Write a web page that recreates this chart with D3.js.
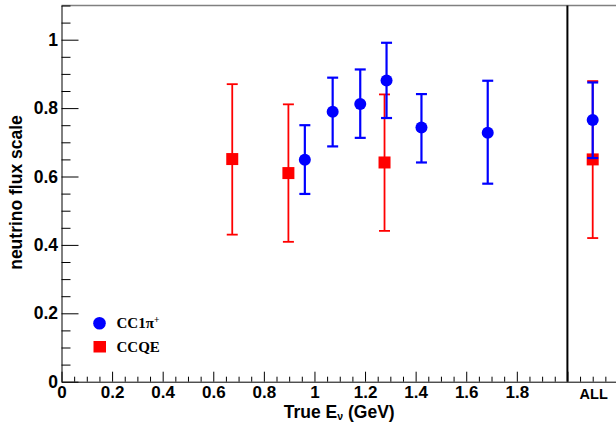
<!DOCTYPE html>
<html><head><meta charset="utf-8">
<script src="https://cdn.jsdelivr.net/npm/d3@7"></script>
<style>body{margin:0;background:#fff}svg{display:block}</style>
</head><body>
<svg id="c" width="616" height="423"></svg>
<script>
// ---- data ----
const ccqeX   = [0.675, 0.897, 1.277, 2.1];
const ccqeY   = [0.651, 0.610, 0.641, 0.650];
const ccqeHi  = [0.870, 0.811, 0.840, 0.879];
const ccqeLo  = [0.430, 0.409, 0.441, 0.420];

const pionX   = [0.962, 1.072, 1.181, 1.285, 1.423, 1.685, 2.1];
const pionY   = [0.649, 0.789, 0.812, 0.881, 0.743, 0.728, 0.765];
const pionHi  = [0.750, 0.889, 0.913, 0.991, 0.841, 0.880, 0.875];
const pionLo  = [0.549, 0.688, 0.713, 0.771, 0.641, 0.579, 0.654];

const xMajor  = [0, 0.2, 0.4, 0.6, 0.8, 1.0, 1.2, 1.4, 1.6, 1.8, 2.0];
const xLabels = ["0","0.2","0.4","0.6","0.8","1","1.2","1.4","1.6","1.8",""];
const yMajor  = [0, 0.2, 0.4, 0.6, 0.8, 1.0];
const yLabels = ["0","0.2","0.4","0.6","0.8","1"];
const allLabel = "ALL";

const svg = d3.select("#c");
const L = 61.5, R = 618, T = 5.5, B = 381.7;
const x = d3.scaleLinear().domain([0, 2.2]).range([L, R]);
const y = d3.scaleLinear().domain([0, 1.1]).range([B, T]);

const xMinor = d3.range(0, 2.2001, 0.05).filter(v => Math.abs(v/0.2 - Math.round(v/0.2)) > 1e-6);
const yMinor = d3.range(0, 1.1001, 0.05).filter(v => Math.abs(v/0.2 - Math.round(v/0.2)) > 1e-6);

const font = "'Liberation Sans', Arial, Helvetica, sans-serif";

// top frame line
svg.append("line").attr("x1", L).attr("x2", 616).attr("y1", T).attr("y2", T)
  .attr("stroke", "#808080").attr("stroke-width", 1.5);

// x axis
const gx = svg.append("g").attr("transform", `translate(0,${B})`);
gx.call(d3.axisBottom(x).tickValues(xMinor).tickSizeInner(-5).tickSizeOuter(0).tickFormat(""));
gx.call(g => g.selectAll(".domain").remove());
const gx2 = svg.append("g").attr("transform", `translate(0,${B})`);
gx2.call(d3.axisBottom(x).tickValues(xMajor).tickSizeInner(-10).tickSizeOuter(0)
  .tickFormat((d, i) => xLabels[i]).tickPadding(4.5));
gx2.selectAll("text").attr("font-family", font).attr("font-weight", "bold")
  .attr("font-size", 17).attr("fill", "#000").attr("dy", "0.71em");

// y axis
const gy = svg.append("g").attr("transform", `translate(${L},0)`);
gy.call(d3.axisLeft(y).tickValues(yMinor).tickSizeInner(-9).tickSizeOuter(0).tickFormat(""));
gy.call(g => g.selectAll(".domain").remove());
const gy2 = svg.append("g").attr("transform", `translate(${L},0)`);
gy2.call(d3.axisLeft(y).tickValues(yMajor).tickSizeInner(-17).tickSizeOuter(0)
  .tickFormat((d, i) => yLabels[i]).tickPadding(3.5));
gy2.selectAll("text").attr("font-family", font).attr("font-weight", "bold")
  .attr("font-size", 17.5).attr("fill", "#000");
svg.selectAll(".tick line").attr("stroke", "#000");
svg.selectAll(".domain").attr("stroke", "#000");

// ALL label
svg.append("text").attr("x", x(2.104)).attr("y", 398.5).attr("text-anchor", "middle")
  .attr("font-family", font).attr("font-weight", "bold").attr("font-size", 14.5).text(allLabel);

// separator line at 2.0
svg.append("line").attr("x1", x(2.0)).attr("x2", x(2.0)).attr("y1", T).attr("y2", B)
  .attr("stroke", "#000").attr("stroke-width", 2);

// axis titles
const xt = svg.append("text").attr("x", (L + R) / 2 - 0.5).attr("y", 417.5).attr("text-anchor", "middle")
  .attr("font-family", font).attr("font-weight", "bold").attr("font-size", 17.5);
xt.append("tspan").text("True E");
xt.append("tspan").attr("font-size", 10.5).attr("dy", 2.5).text("ν");
xt.append("tspan").attr("dy", -2.5).text(" (GeV)");

svg.append("text").attr("transform", `translate(22,${192.5}) rotate(-90)`).attr("text-anchor", "middle")
  .attr("font-family", font).attr("font-weight", "bold").attr("font-size", 17.5).text("neutrino flux scale");

// error bars helper
function drawSeries(xs, ys, hi, lo, color, lw, shape) {
  const g = svg.append("g");
  xs.forEach((xv, i) => {
    const cx = x(xv);
    g.append("line").attr("x1", cx).attr("x2", cx).attr("y1", y(hi[i])).attr("y2", y(lo[i]))
      .attr("stroke", color).attr("stroke-width", lw);
    [hi[i], lo[i]].forEach(v => g.append("line").attr("x1", cx - 5.5).attr("x2", cx + 5.5)
      .attr("y1", y(v)).attr("y2", y(v)).attr("stroke", color).attr("stroke-width", lw));
    if (shape === "circle") {
      g.append("circle").attr("cx", cx).attr("cy", y(ys[i])).attr("r", 6).attr("fill", color);
    } else {
      g.append("rect").attr("x", cx - 6).attr("y", y(ys[i]) - 6).attr("width", 12).attr("height", 12)
        .attr("fill", color);
    }
  });
}
drawSeries(ccqeX, ccqeY, ccqeHi, ccqeLo, "#ff0000", 1.8, "square");
drawSeries(pionX, pionY, pionHi, pionLo, "#0000ff", 2.2, "circle");

// legend
const serif = "'Liberation Serif', 'Times New Roman', serif";
svg.append("circle").attr("cx", 99.5).attr("cy", 323.3).attr("r", 6.3).attr("fill", "#0000ff");
const l1 = svg.append("text").attr("x", 116.5).attr("y", 328).attr("font-family", serif)
  .attr("font-weight", "bold").attr("font-size", 15);
l1.append("tspan").text("CC1π");
l1.append("tspan").attr("font-size", 9.5).attr("dy", -5).text("+");
svg.append("rect").attr("x", 93.5).attr("y", 341).attr("width", 12.5).attr("height", 11.5).attr("fill", "#ff0000");
svg.append("text").attr("x", 116.5).attr("y", 352).attr("font-family", serif)
  .attr("font-weight", "bold").attr("font-size", 15).text("CCQE");
</script>
</body></html>
